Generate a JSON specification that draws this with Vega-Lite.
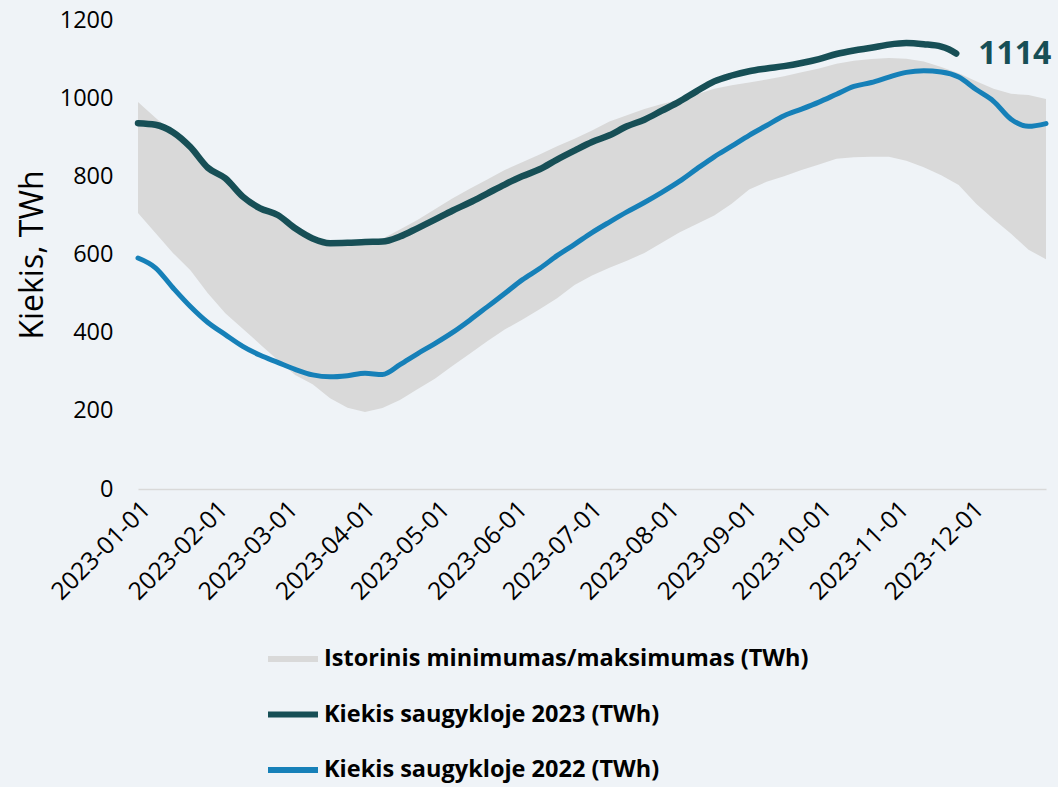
{
  "$schema": "https://vega.github.io/schema/vega-lite/v6.json",
  "width": 908,
  "height": 469,
  "autosize": "none",
  "padding": {"left": 138, "top": 20, "right": 12, "bottom": 298},
  "background": "#eff3f7",
  "config": {
    "view": {"stroke": null},
    "font": "Open Sans",
    "legend": {
      "orient": "none",
      "legendX": 127,
      "legendY": 611,
      "direction": "vertical",
      "title": null
    }
  },
  "datasets": {
    "band": [
      {"date": "2023-01-01", "min": 706, "max": 990},
      {"date": "2023-01-08", "min": 655, "max": 950},
      {"date": "2023-01-15", "min": 604, "max": 912},
      {"date": "2023-01-22", "min": 560, "max": 873},
      {"date": "2023-01-29", "min": 501, "max": 820},
      {"date": "2023-02-05", "min": 450, "max": 793},
      {"date": "2023-02-12", "min": 410, "max": 745},
      {"date": "2023-02-19", "min": 370, "max": 716},
      {"date": "2023-02-26", "min": 330, "max": 699},
      {"date": "2023-03-05", "min": 292, "max": 664},
      {"date": "2023-03-12", "min": 268, "max": 638},
      {"date": "2023-03-19", "min": 232, "max": 626},
      {"date": "2023-03-26", "min": 208, "max": 627},
      {"date": "2023-04-02", "min": 197, "max": 626},
      {"date": "2023-04-09", "min": 207, "max": 640},
      {"date": "2023-04-16", "min": 228, "max": 664},
      {"date": "2023-04-23", "min": 255, "max": 688},
      {"date": "2023-04-30", "min": 282, "max": 716},
      {"date": "2023-05-07", "min": 315, "max": 743},
      {"date": "2023-05-14", "min": 346, "max": 768},
      {"date": "2023-05-21", "min": 378, "max": 792},
      {"date": "2023-05-28", "min": 408, "max": 816},
      {"date": "2023-06-04", "min": 433, "max": 836},
      {"date": "2023-06-11", "min": 460, "max": 856},
      {"date": "2023-06-18", "min": 488, "max": 877},
      {"date": "2023-06-25", "min": 522, "max": 896},
      {"date": "2023-07-02", "min": 546, "max": 917},
      {"date": "2023-07-09", "min": 566, "max": 940},
      {"date": "2023-07-16", "min": 584, "max": 956},
      {"date": "2023-07-23", "min": 604, "max": 972},
      {"date": "2023-07-30", "min": 630, "max": 985},
      {"date": "2023-08-06", "min": 656, "max": 996},
      {"date": "2023-08-13", "min": 678, "max": 1010},
      {"date": "2023-08-20", "min": 700, "max": 1024},
      {"date": "2023-08-27", "min": 730, "max": 1033},
      {"date": "2023-09-03", "min": 766, "max": 1040},
      {"date": "2023-09-10", "min": 786, "max": 1048},
      {"date": "2023-09-17", "min": 800, "max": 1056},
      {"date": "2023-09-24", "min": 816, "max": 1066},
      {"date": "2023-10-01", "min": 830, "max": 1076},
      {"date": "2023-10-08", "min": 845, "max": 1088},
      {"date": "2023-10-15", "min": 849, "max": 1096},
      {"date": "2023-10-22", "min": 850, "max": 1100},
      {"date": "2023-10-29", "min": 850, "max": 1103},
      {"date": "2023-11-05", "min": 840, "max": 1101},
      {"date": "2023-11-12", "min": 823, "max": 1094},
      {"date": "2023-11-19", "min": 803, "max": 1080},
      {"date": "2023-11-26", "min": 778, "max": 1064},
      {"date": "2023-12-03", "min": 730, "max": 1043},
      {"date": "2023-12-10", "min": 690, "max": 1024},
      {"date": "2023-12-17", "min": 653, "max": 1011},
      {"date": "2023-12-24", "min": 612, "max": 1008},
      {"date": "2023-12-31", "min": 588, "max": 998}
    ],
    "s2023": [
      {"date": "2023-01-01", "value": 936},
      {"date": "2023-01-08", "value": 932},
      {"date": "2023-01-15", "value": 913},
      {"date": "2023-01-22", "value": 875},
      {"date": "2023-01-29", "value": 822},
      {"date": "2023-02-05", "value": 795},
      {"date": "2023-02-12", "value": 748},
      {"date": "2023-02-19", "value": 718},
      {"date": "2023-02-26", "value": 701},
      {"date": "2023-03-05", "value": 667},
      {"date": "2023-03-12", "value": 641},
      {"date": "2023-03-19", "value": 629},
      {"date": "2023-03-26", "value": 630},
      {"date": "2023-04-02", "value": 632},
      {"date": "2023-04-09", "value": 633},
      {"date": "2023-04-16", "value": 646},
      {"date": "2023-04-23", "value": 667},
      {"date": "2023-04-30", "value": 689},
      {"date": "2023-05-07", "value": 712},
      {"date": "2023-05-14", "value": 733},
      {"date": "2023-05-21", "value": 756},
      {"date": "2023-05-28", "value": 779},
      {"date": "2023-06-04", "value": 800},
      {"date": "2023-06-11", "value": 818},
      {"date": "2023-06-18", "value": 843},
      {"date": "2023-06-25", "value": 866},
      {"date": "2023-07-02", "value": 888},
      {"date": "2023-07-09", "value": 905},
      {"date": "2023-07-16", "value": 928},
      {"date": "2023-07-23", "value": 945},
      {"date": "2023-07-30", "value": 968},
      {"date": "2023-08-06", "value": 991},
      {"date": "2023-08-13", "value": 1018},
      {"date": "2023-08-20", "value": 1043},
      {"date": "2023-08-27", "value": 1058},
      {"date": "2023-09-03", "value": 1069},
      {"date": "2023-09-10", "value": 1076},
      {"date": "2023-09-17", "value": 1082},
      {"date": "2023-09-24", "value": 1090},
      {"date": "2023-10-01", "value": 1100},
      {"date": "2023-10-08", "value": 1113},
      {"date": "2023-10-15", "value": 1122},
      {"date": "2023-10-22", "value": 1129},
      {"date": "2023-10-29", "value": 1137},
      {"date": "2023-11-05", "value": 1141},
      {"date": "2023-11-12", "value": 1138},
      {"date": "2023-11-19", "value": 1132},
      {"date": "2023-11-22", "value": 1125},
      {"date": "2023-11-25", "value": 1114}
    ],
    "s2022": [
      {"date": "2023-01-01", "value": 591},
      {"date": "2023-01-08", "value": 566},
      {"date": "2023-01-15", "value": 515},
      {"date": "2023-01-22", "value": 467},
      {"date": "2023-01-29", "value": 426},
      {"date": "2023-02-05", "value": 395},
      {"date": "2023-02-12", "value": 365},
      {"date": "2023-02-19", "value": 342},
      {"date": "2023-02-26", "value": 324},
      {"date": "2023-03-05", "value": 306},
      {"date": "2023-03-12", "value": 292},
      {"date": "2023-03-19", "value": 287},
      {"date": "2023-03-26", "value": 290},
      {"date": "2023-04-02", "value": 296},
      {"date": "2023-04-09", "value": 293},
      {"date": "2023-04-16", "value": 318},
      {"date": "2023-04-23", "value": 346},
      {"date": "2023-04-30", "value": 372},
      {"date": "2023-05-07", "value": 400},
      {"date": "2023-05-14", "value": 432},
      {"date": "2023-05-21", "value": 466},
      {"date": "2023-05-28", "value": 500},
      {"date": "2023-06-04", "value": 535},
      {"date": "2023-06-11", "value": 564},
      {"date": "2023-06-18", "value": 597},
      {"date": "2023-06-25", "value": 626},
      {"date": "2023-07-02", "value": 656},
      {"date": "2023-07-09", "value": 683},
      {"date": "2023-07-16", "value": 709},
      {"date": "2023-07-23", "value": 733},
      {"date": "2023-07-30", "value": 759},
      {"date": "2023-08-06", "value": 787},
      {"date": "2023-08-13", "value": 819},
      {"date": "2023-08-20", "value": 850},
      {"date": "2023-08-27", "value": 877},
      {"date": "2023-09-03", "value": 905},
      {"date": "2023-09-10", "value": 930},
      {"date": "2023-09-17", "value": 955},
      {"date": "2023-09-24", "value": 972},
      {"date": "2023-10-01", "value": 990},
      {"date": "2023-10-08", "value": 1010},
      {"date": "2023-10-15", "value": 1030},
      {"date": "2023-10-22", "value": 1040},
      {"date": "2023-10-29", "value": 1054},
      {"date": "2023-11-05", "value": 1066},
      {"date": "2023-11-12", "value": 1070},
      {"date": "2023-11-19", "value": 1067},
      {"date": "2023-11-26", "value": 1054},
      {"date": "2023-12-03", "value": 1022},
      {"date": "2023-12-10", "value": 992},
      {"date": "2023-12-17", "value": 946},
      {"date": "2023-12-24", "value": 928},
      {"date": "2023-12-31", "value": 935}
    ],
    "label": [
      {"date": "2023-11-25", "value": 1114}
    ]
  },
  "layer": [
    {
      "data": {"name": "band"},
      "mark": {"type": "area", "opacity": 1},
      "encoding": {
        "x": {
          "field": "date",
          "type": "temporal",
          "scale": {
            "type": "utc",
            "domain": [
              {"year": 2023, "month": 1, "date": 1, "utc": true},
              {"year": 2023, "month": 12, "date": 31, "utc": true}
            ]
          },
          "axis": {
            "title": null,
            "labelExpr": "utcFormat(datum.value, '%Y-%m-%d')",
            "tickCount": {"interval": "month", "step": 1},
            "labelAngle": -45,
            "labelFont": "Open Sans",
            "labelFontSize": 24.5,
            "labelColor": "#000000",
            "labelPadding": 8,
            "labelOverlap": false,
            "labelFlush": false,
            "ticks": false,
            "grid": false,
            "domainColor": "#d9d9d9",
            "domainWidth": 1.5
          }
        },
        "y": {
          "field": "min",
          "type": "quantitative",
          "scale": {"domain": [0, 1200], "nice": false},
          "axis": {
            "title": "Kiekis, TWh",
            "titleFont": "Open Sans",
            "titleFontSize": 32,
            "titleFontWeight": "normal",
            "titleColor": "#000000",
            "titlePadding": 10,
            "values": [0, 200, 400, 600, 800, 1000, 1200],
            "format": "d",
            "labelFont": "Open Sans",
            "labelFontSize": 23.5,
            "labelColor": "#000000",
            "labelPadding": 25,
            "ticks": false,
            "domain": false,
            "grid": false
          }
        },
        "y2": {"field": "max"},
        "color": {
          "datum": "Istorinis minimumas/maksimumas (TWh)",
          "type": "nominal",
          "scale": {
            "domain": [
              "Istorinis minimumas/maksimumas (TWh)",
              "Kiekis saugykloje 2023 (TWh)",
              "Kiekis saugykloje 2022 (TWh)"
            ],
            "range": ["#d9d9d9", "#174f56", "#1680b8"]
          },
          "legend": {
            "symbolType": "stroke",
            "symbolSize": 2500,
            "symbolStrokeWidth": 6,
            "labelFont": "Open Sans",
            "labelFontSize": 23.5,
            "labelFontWeight": "bold",
            "labelColor": "#000000",
            "labelLimit": 0,
            "labelOffset": 3,
            "rowPadding": 15.5,
            "encode": {
              "symbols": {
                "update": {
                  "stroke": {"scale": "color", "field": "value"},
                  "fill": {"value": "transparent"},
                  "strokeWidth": {"signal": "datum.value === 'Istorinis minimumas/maksimumas (TWh)' ? 14 : 6"},
                  "strokeCap": {"signal": "datum.value === 'Istorinis minimumas/maksimumas (TWh)' ? 'butt' : 'round'"}
                }
              }
            }
          }
        }
      }
    },
    {
      "data": {"name": "s2022"},
      "mark": {"type": "line", "strokeWidth": 5, "strokeCap": "round", "strokeJoin": "round", "interpolate": "monotone"},
      "encoding": {
        "x": {"field": "date", "type": "temporal"},
        "y": {"field": "value", "type": "quantitative"},
        "color": {"datum": "Kiekis saugykloje 2022 (TWh)", "type": "nominal"}
      }
    },
    {
      "data": {"name": "s2023"},
      "mark": {"type": "line", "strokeWidth": 6.5, "strokeCap": "round", "strokeJoin": "round", "interpolate": "monotone"},
      "encoding": {
        "x": {"field": "date", "type": "temporal"},
        "y": {"field": "value", "type": "quantitative"},
        "color": {"datum": "Kiekis saugykloje 2023 (TWh)", "type": "nominal"}
      }
    },
    {
      "data": {"name": "label"},
      "mark": {"type": "text", "align": "left", "baseline": "middle", "dx": 22, "dy": 0, "font": "Open Sans", "fontSize": 32, "fontWeight": "bold", "color": "#174f56"},
      "encoding": {
        "x": {"field": "date", "type": "temporal"},
        "y": {"field": "value", "type": "quantitative"},
        "text": {"field": "value", "type": "quantitative", "format": "d"}
      }
    }
  ]
}
